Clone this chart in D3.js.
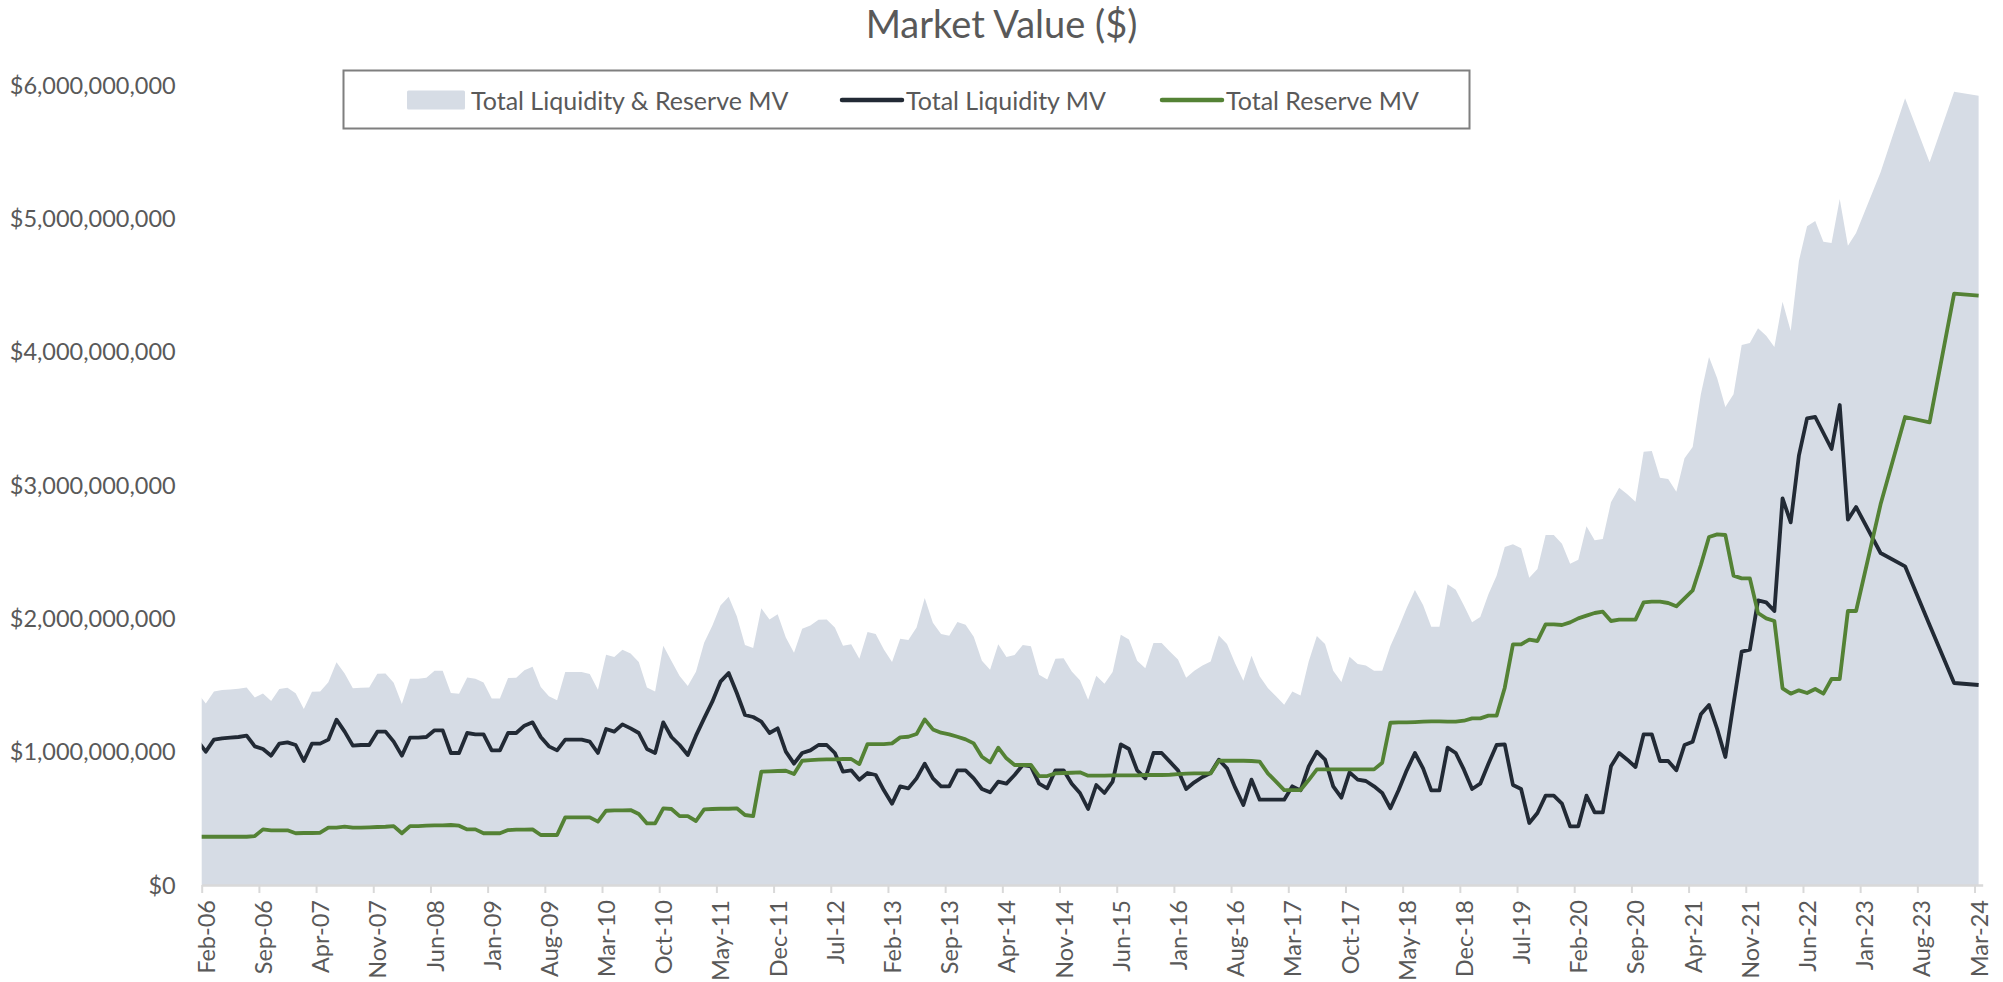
<!DOCTYPE html>
<html>
<head>
<meta charset="utf-8">
<script src="https://cdn.jsdelivr.net/npm/d3@7/dist/d3.min.js"></script>
<style>
  body { margin: 0; background: #fff; }
  svg text { font-family: Lato, "Open Sans", sans-serif; fill: #595959; }
</style>
</head>
<body>
<div id="chart"></div>
<script>
// monthly market value in $ billions, first value = Jan-06 (axis starts at Feb-06)
// from Dec-22 on only quarter ends are reported (null = no value)
const tickLabels = ["Feb-06", "Sep-06", "Apr-07", "Nov-07", "Jun-08", "Jan-09", "Aug-09", "Mar-10",
  "Oct-10", "May-11", "Dec-11", "Jul-12", "Feb-13", "Sep-13", "Apr-14", "Nov-14",
  "Jun-15", "Jan-16", "Aug-16", "Mar-17", "Oct-17", "May-18", "Dec-18", "Jul-19",
  "Feb-20", "Sep-20", "Apr-21", "Nov-21", "Jun-22", "Jan-23", "Aug-23", "Mar-24"];

const yTicks = [0, 1, 2, 3, 4, 5, 6];

const liquidityMV = [
  1.08, 1.00, 1.09, 1.10, 1.105, 1.11, 1.12, 1.04, 1.02, 0.97, 1.06, 1.07,      // 2006
  1.05, 0.93, 1.06, 1.06, 1.09, 1.24, 1.15, 1.045, 1.05, 1.05, 1.15, 1.15,      // 2007
  1.075, 0.97, 1.105, 1.105, 1.11, 1.16, 1.16, 0.99, 0.99, 1.14, 1.13, 1.13,    // 2008
  1.01, 1.01, 1.14, 1.14, 1.195, 1.22, 1.11, 1.04, 1.01, 1.09, 1.09, 1.09,      // 2009
  1.075, 0.99, 1.17, 1.15, 1.205, 1.175, 1.14, 1.02, 0.99, 1.22, 1.11, 1.05,    // 2010
  0.975, 1.12, 1.25, 1.375, 1.525, 1.59, 1.44, 1.275, 1.26, 1.225, 1.14, 1.175, // 2011
  1.00, 0.91, 0.99, 1.01, 1.05, 1.05, 0.99, 0.85, 0.86, 0.79, 0.84, 0.825,      // 2012
  0.71, 0.61, 0.74, 0.725, 0.80, 0.91, 0.80, 0.74, 0.74, 0.86, 0.86, 0.80,      // 2013
  0.72, 0.695, 0.775, 0.76, 0.825, 0.90, 0.89, 0.76, 0.725, 0.86, 0.86, 0.76,   // 2014
  0.69, 0.57, 0.75, 0.69, 0.775, 1.055, 1.02, 0.86, 0.80, 0.99, 0.99, 0.925,    // 2015
  0.86, 0.72, 0.77, 0.81, 0.84, 0.94, 0.875, 0.73, 0.60, 0.79, 0.64, 0.64,      // 2016
  0.64, 0.64, 0.74, 0.71, 0.89, 1.00, 0.94, 0.74, 0.655, 0.845, 0.79, 0.78,     // 2017
  0.74, 0.69, 0.575, 0.71, 0.86, 0.99, 0.875, 0.71, 0.71, 1.03, 0.99, 0.865,    // 2018
  0.72, 0.76, 0.91, 1.05, 1.055, 0.75, 0.72, 0.465, 0.54, 0.67, 0.67, 0.61,     // 2019
  0.44, 0.44, 0.67, 0.545, 0.545, 0.89, 0.99, 0.94, 0.885, 1.13, 1.13, 0.93,    // 2020
  0.93, 0.86, 1.05, 1.075, 1.28, 1.35, 1.17, 0.96, 1.36, 1.75, 1.765, 2.135,    // 2021
  2.12, 2.055, 2.90, 2.72, 3.22, 3.50, 3.51, 3.39, 3.27, 3.60, 2.74, 2.835,     // 2022
  null, null, 2.49, null, null, 2.39, null, null, 1.95, null, null, 1.515,      // 2023
  null, null, 1.50                                                              // 2024
];

const reserveMV = [
  0.362, 0.362, 0.362, 0.362, 0.362, 0.362, 0.362, 0.367, 0.417, 0.41, 0.41, 0.41,     // 2006
  0.388, 0.39, 0.39, 0.392, 0.43, 0.43, 0.437, 0.43, 0.43, 0.432, 0.435, 0.437,       // 2007
  0.442, 0.388, 0.442, 0.442, 0.445, 0.447, 0.447, 0.45, 0.445, 0.417, 0.417, 0.388,  // 2008
  0.388, 0.388, 0.412, 0.415, 0.415, 0.417, 0.375, 0.375, 0.375, 0.507, 0.507, 0.507, // 2009
  0.507, 0.475, 0.557, 0.56, 0.56, 0.562, 0.532, 0.462, 0.462, 0.575, 0.57, 0.517,    // 2010
  0.517, 0.48, 0.567, 0.57, 0.572, 0.572, 0.575, 0.525, 0.517, 0.85, 0.852, 0.855,    // 2011
  0.857, 0.832, 0.932, 0.937, 0.94, 0.942, 0.942, 0.945, 0.945, 0.907, 1.057, 1.057,  // 2012
  1.057, 1.062, 1.107, 1.112, 1.132, 1.242, 1.167, 1.142, 1.13, 1.112, 1.092, 1.062,  // 2013
  0.962, 0.92, 1.03, 0.95, 0.90, 0.90, 0.90, 0.817, 0.817, 0.837, 0.84, 0.842,        // 2014
  0.845, 0.82, 0.82, 0.82, 0.822, 0.822, 0.822, 0.822, 0.825, 0.825, 0.825, 0.827,    // 2015
  0.832, 0.835, 0.837, 0.837, 0.837, 0.932, 0.932, 0.932, 0.932, 0.93, 0.925, 0.837,  // 2016
  0.775, 0.712, 0.712, 0.712, 0.787, 0.867, 0.867, 0.867, 0.867, 0.867, 0.867, 0.867, // 2017
  0.867, 0.917, 1.217, 1.22, 1.22, 1.222, 1.225, 1.227, 1.227, 1.225, 1.225, 1.232,   // 2018
  1.25, 1.25, 1.27, 1.27, 1.48, 1.805, 1.805, 1.84, 1.83, 1.955, 1.955, 1.95,         // 2019
  1.97, 2.00, 2.02, 2.04, 2.05, 1.98, 1.99, 1.99, 1.99, 2.12, 2.125, 2.125,           // 2020
  2.115, 2.09, 2.15, 2.21, 2.40, 2.61, 2.63, 2.625, 2.32, 2.30, 2.30, 2.04,           // 2021
  2.00, 1.98, 1.475, 1.435, 1.46, 1.44, 1.47, 1.435, 1.545, 1.545, 2.055, 2.055,      // 2022
  null, null, 2.855, null, null, 3.51, null, null, 3.47, null, null, 4.435,           // 2023
  null, null, 4.42                                                                    // 2024
];

const seriesNames = ["Total Liquidity & Reserve MV", "Total Liquidity MV", "Total Reserve MV"];
const seriesColors = ["#d6dce5", "#222a35", "#548235"];

const width = 2003;
const height = 982;
const plot = { left: 201.7, right: 1982.7, top: 85, bottom: 885 };

const svg = d3.select("#chart")
  .append("svg")
  .attr("width", width)
  .attr("height", height);

svg.append("rect").attr("width", width).attr("height", height).attr("fill", "#fff");

// x: month slots, slot j covers [j, j+1], Feb-06 starts at 1
const x = d3.scaleLinear()
  .domain([1, liquidityMV.length])
  .range([plot.left, plot.right]);

const y = d3.scaleLinear()
  .domain([0, 6])
  .range([plot.bottom, plot.top]);

const rows = liquidityMV.map((v, j) => ({ m: j + 0.5, liq: v, res: reserveMV[j] }));

svg.append("clipPath").attr("id", "plot-clip")
  .append("rect")
  .attr("x", plot.left).attr("y", 0)
  .attr("width", plot.right - plot.left).attr("height", plot.bottom);

const g = svg.append("g").attr("clip-path", "url(#plot-clip)");

// area = liquidity + reserve
const area = d3.area()
  .x(d => x(d.m))
  .y0(y(0))
  .y1(d => y(d.liq + d.res));

g.append("path")
  .datum(rows.filter(d => d.liq != null && d.res != null))
  .attr("fill", seriesColors[0])
  .attr("d", area);

const lineLiq = d3.line().x(d => x(d.m)).y(d => y(d.liq));
const lineRes = d3.line().x(d => x(d.m)).y(d => y(d.res));

g.append("path")
  .datum(rows.filter(d => d.liq != null))
  .attr("fill", "none")
  .attr("stroke", seriesColors[1])
  .attr("stroke-width", 3.8)
  .attr("stroke-linejoin", "round")
  .attr("d", lineLiq);

g.append("path")
  .datum(rows.filter(d => d.res != null))
  .attr("fill", "none")
  .attr("stroke", seriesColors[2])
  .attr("stroke-width", 3.8)
  .attr("stroke-linejoin", "round")
  .attr("d", lineRes);

// y axis labels only
const yAxis = svg.append("g")
  .attr("transform", `translate(${plot.left},0)`)
  .call(d3.axisLeft(y)
    .tickValues(yTicks)
    .tickSize(0)
    .tickPadding(26)
    .tickFormat(d => "$" + d3.format(",")(d * 1e9)));
yAxis.select(".domain").remove();
yAxis.selectAll("text")
  .attr("dy", "0.35em")
  .style("font-size", "23.5px")
  .style("font-family", "Lato, sans-serif")
  .attr("fill", "#595959");

// x axis: ticks on slot boundaries every 7 months, labels centred in slot
const tickPos = tickLabels.map((t, k) => 1 + 7 * k);
const xAxis = svg.append("g")
  .attr("transform", `translate(0,${plot.bottom})`)
  .call(d3.axisBottom(x)
    .tickValues(tickPos)
    .tickSize(8)
    .tickSizeOuter(0)
    .tickFormat(""));
xAxis.select(".domain").attr("stroke", "#d9d9d9").attr("stroke-width", 2.5);
xAxis.selectAll(".tick line").attr("stroke", "#d9d9d9").attr("stroke-width", 2);

svg.append("g").selectAll("text")
  .data(tickLabels)
  .join("text")
  .attr("transform", (d, k) => `translate(${x(tickPos[k] + 0.5)},900) rotate(-90)`)
  .attr("text-anchor", "end")
  .attr("dominant-baseline", "central")
  .style("font-size", "23.5px")
  .text(d => d);

// title
svg.append("text")
  .attr("x", width / 2)
  .attr("y", 38)
  .attr("text-anchor", "middle")
  .style("font-size", "38px")
  .text("Market Value ($)");

// legend
const legend = svg.append("g").attr("class", "legend");
legend.append("rect")
  .attr("x", 343.5).attr("y", 70.5)
  .attr("width", 1126).attr("height", 58)
  .attr("fill", "#fff")
  .attr("stroke", "#7f7f7f")
  .attr("stroke-width", 2);

const legendX = [407, 842, 1162];
seriesNames.forEach((name, i) => {
  if (i === 0) {
    legend.append("rect")
      .attr("x", legendX[i]).attr("y", 90.5)
      .attr("width", 58).attr("height", 19)
      .attr("rx", 1.5)
      .attr("fill", seriesColors[i]);
  } else {
    legend.append("line")
      .attr("x1", legendX[i]).attr("x2", legendX[i] + 60)
      .attr("y1", 100).attr("y2", 100)
      .attr("stroke", seriesColors[i])
      .attr("stroke-width", 4.5)
      .attr("stroke-linecap", "round");
  }
  legend.append("text")
    .attr("x", legendX[i] + 64)
    .attr("y", 100)
    .attr("dominant-baseline", "central")
    .style("font-size", "25px")
    .text(name);
});
</script>
</body>
</html>
